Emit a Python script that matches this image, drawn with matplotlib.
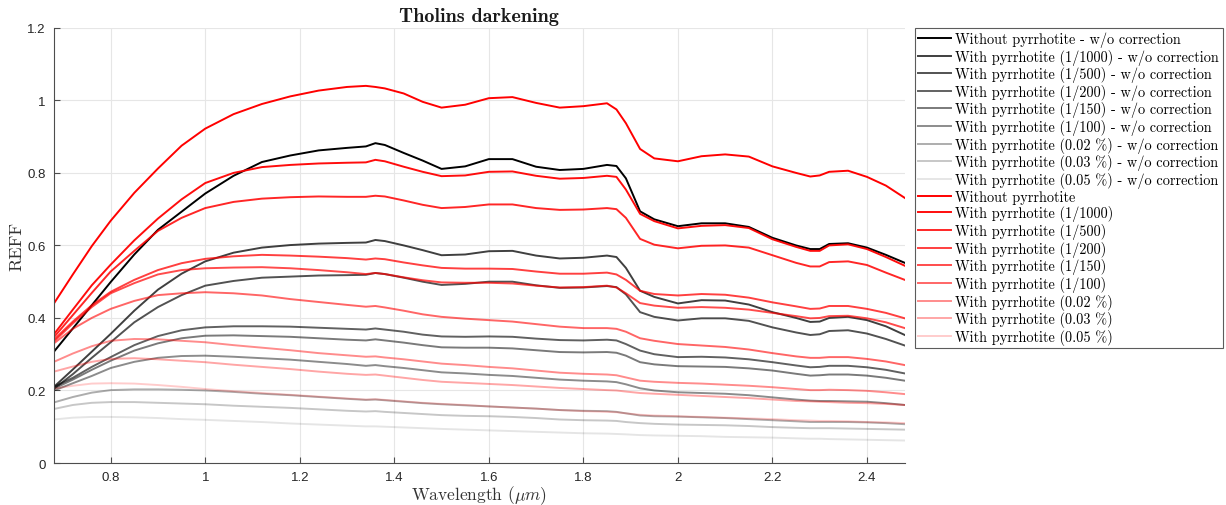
import matplotlib
matplotlib.use("Agg")
import matplotlib.pyplot as plt
from matplotlib.ticker import FuncFormatter, MultipleLocator

plt.rcParams["mathtext.fontset"] = "cm"

# Wavelength grid (micrometres)
wavelength = [0.68, 0.72, 0.76, 0.80, 0.85, 0.90, 0.95, 1.00, 1.06, 1.12, 1.18, 1.24, 1.30,
              1.34, 1.36, 1.38, 1.42, 1.46, 1.50, 1.55, 1.60, 1.65, 1.70, 1.75, 1.80, 1.85,
              1.87, 1.89, 1.92, 1.95, 2.00, 2.05, 2.10, 2.15, 2.20, 2.25, 2.28, 2.30, 2.32,
              2.36, 2.40, 2.44, 2.48]

# Reflectance spectra without the correction step
raw_none = [0.307, 0.371, 0.435, 0.499, 0.575, 0.643, 0.693, 0.743, 0.792, 0.830, 0.848, 0.862, 0.869,
            0.873, 0.882, 0.877, 0.855, 0.834, 0.811, 0.818, 0.838, 0.838, 0.817, 0.808, 0.811, 0.822,
            0.819, 0.785, 0.694, 0.672, 0.653, 0.661, 0.661, 0.651, 0.621, 0.600, 0.590, 0.590, 0.604,
            0.606, 0.594, 0.574, 0.552]
raw_1000 = [0.210, 0.258, 0.307, 0.356, 0.420, 0.478, 0.522, 0.556, 0.580, 0.594, 0.601, 0.605, 0.607,
            0.608, 0.615, 0.612, 0.600, 0.587, 0.573, 0.575, 0.584, 0.585, 0.572, 0.564, 0.566, 0.572,
            0.568, 0.538, 0.475, 0.458, 0.440, 0.449, 0.448, 0.437, 0.416, 0.400, 0.389, 0.390, 0.400,
            0.403, 0.394, 0.377, 0.353]
raw_500 = [0.205, 0.245, 0.290, 0.333, 0.388, 0.430, 0.463, 0.489, 0.502, 0.511, 0.514, 0.517, 0.518,
           0.519, 0.524, 0.521, 0.511, 0.500, 0.491, 0.494, 0.500, 0.500, 0.490, 0.483, 0.484, 0.488,
           0.485, 0.465, 0.416, 0.403, 0.393, 0.399, 0.399, 0.392, 0.374, 0.360, 0.353, 0.355, 0.364,
           0.366, 0.357, 0.342, 0.324]
raw_200 = [0.210, 0.235, 0.265, 0.292, 0.325, 0.350, 0.366, 0.374, 0.377, 0.377, 0.376, 0.373, 0.370,
           0.368, 0.371, 0.368, 0.362, 0.354, 0.349, 0.348, 0.349, 0.348, 0.343, 0.339, 0.338, 0.340,
           0.338, 0.328, 0.310, 0.300, 0.292, 0.293, 0.291, 0.286, 0.278, 0.269, 0.264, 0.265, 0.268,
           0.268, 0.264, 0.257, 0.247]
raw_150 = [0.205, 0.230, 0.257, 0.282, 0.310, 0.330, 0.344, 0.351, 0.352, 0.350, 0.348, 0.344, 0.340,
           0.338, 0.341, 0.338, 0.332, 0.325, 0.319, 0.318, 0.318, 0.316, 0.311, 0.306, 0.305, 0.306,
           0.304, 0.296, 0.278, 0.272, 0.267, 0.266, 0.265, 0.261, 0.255, 0.246, 0.241, 0.242, 0.244,
           0.244, 0.241, 0.235, 0.227]
raw_100 = [0.200, 0.220, 0.240, 0.262, 0.279, 0.290, 0.295, 0.296, 0.293, 0.289, 0.285, 0.279, 0.273,
           0.268, 0.270, 0.267, 0.262, 0.256, 0.250, 0.247, 0.243, 0.240, 0.235, 0.230, 0.227, 0.225,
           0.223, 0.217, 0.206, 0.200, 0.195, 0.193, 0.191, 0.187, 0.181, 0.175, 0.172, 0.171, 0.171,
           0.170, 0.169, 0.165, 0.160]
raw_002 = [0.167, 0.182, 0.194, 0.201, 0.203, 0.203, 0.202, 0.200, 0.196, 0.191, 0.187, 0.182, 0.177,
           0.174, 0.175, 0.173, 0.169, 0.165, 0.162, 0.159, 0.156, 0.153, 0.150, 0.146, 0.144, 0.143,
           0.141, 0.137, 0.131, 0.129, 0.128, 0.126, 0.124, 0.121, 0.118, 0.115, 0.113, 0.113, 0.113,
           0.113, 0.112, 0.110, 0.107]
raw_003 = [0.149, 0.160, 0.166, 0.168, 0.168, 0.166, 0.164, 0.162, 0.158, 0.155, 0.152, 0.148, 0.144,
           0.142, 0.143, 0.141, 0.138, 0.135, 0.132, 0.130, 0.129, 0.127, 0.124, 0.120, 0.118, 0.117,
           0.116, 0.113, 0.110, 0.108, 0.106, 0.105, 0.104, 0.102, 0.099, 0.097, 0.096, 0.096, 0.096,
           0.095, 0.094, 0.093, 0.092]
raw_005 = [0.120, 0.125, 0.127, 0.127, 0.126, 0.124, 0.121, 0.119, 0.116, 0.113, 0.109, 0.106, 0.103,
           0.101, 0.101, 0.100, 0.098, 0.096, 0.094, 0.092, 0.090, 0.088, 0.086, 0.084, 0.082, 0.081,
           0.080, 0.079, 0.077, 0.076, 0.075, 0.074, 0.072, 0.071, 0.070, 0.068, 0.067, 0.067, 0.066,
           0.065, 0.064, 0.063, 0.062]

# Corrected reflectance spectra
cor_none = [0.440, 0.520, 0.598, 0.668, 0.745, 0.812, 0.875, 0.922, 0.962, 0.990, 1.011, 1.027, 1.037,
            1.040, 1.037, 1.033, 1.019, 0.996, 0.980, 0.988, 1.006, 1.009, 0.993, 0.980, 0.984, 0.992,
            0.975, 0.937, 0.866, 0.840, 0.832, 0.846, 0.851, 0.845, 0.818, 0.800, 0.790, 0.793, 0.803,
            0.806, 0.789, 0.765, 0.731]
cor_1000 = [0.355, 0.423, 0.490, 0.547, 0.614, 0.674, 0.727, 0.772, 0.800, 0.816, 0.822, 0.826, 0.828,
            0.829, 0.836, 0.832, 0.817, 0.803, 0.791, 0.793, 0.803, 0.804, 0.792, 0.784, 0.786, 0.792,
            0.789, 0.754, 0.687, 0.667, 0.647, 0.654, 0.656, 0.648, 0.617, 0.596, 0.585, 0.585, 0.600,
            0.603, 0.590, 0.568, 0.544]
cor_500 = [0.347, 0.408, 0.469, 0.528, 0.585, 0.640, 0.676, 0.703, 0.720, 0.729, 0.733, 0.735, 0.734,
           0.734, 0.737, 0.735, 0.724, 0.712, 0.703, 0.706, 0.713, 0.713, 0.703, 0.698, 0.699, 0.703,
           0.700, 0.676, 0.618, 0.602, 0.592, 0.599, 0.600, 0.594, 0.573, 0.552, 0.542, 0.542, 0.554,
           0.556, 0.546, 0.525, 0.505]
cor_200 = [0.340, 0.390, 0.435, 0.472, 0.505, 0.532, 0.551, 0.563, 0.570, 0.574, 0.572, 0.569, 0.565,
           0.561, 0.564, 0.562, 0.553, 0.545, 0.538, 0.536, 0.536, 0.535, 0.528, 0.522, 0.522, 0.525,
           0.520, 0.505, 0.475, 0.466, 0.462, 0.466, 0.464, 0.456, 0.443, 0.432, 0.425, 0.426, 0.433,
           0.433, 0.425, 0.414, 0.399]
cor_150 = [0.335, 0.385, 0.430, 0.468, 0.496, 0.520, 0.532, 0.537, 0.539, 0.540, 0.537, 0.532, 0.526,
           0.521, 0.524, 0.521, 0.512, 0.504, 0.498, 0.497, 0.497, 0.495, 0.489, 0.484, 0.485, 0.489,
           0.484, 0.468, 0.441, 0.434, 0.428, 0.430, 0.428, 0.423, 0.414, 0.405, 0.399, 0.400, 0.405,
           0.406, 0.399, 0.388, 0.372]
cor_100 = [0.330, 0.370, 0.400, 0.425, 0.447, 0.463, 0.468, 0.471, 0.468, 0.462, 0.452, 0.444, 0.436,
           0.431, 0.433, 0.429, 0.420, 0.410, 0.403, 0.398, 0.394, 0.390, 0.383, 0.376, 0.372, 0.372,
           0.370, 0.362, 0.344, 0.337, 0.328, 0.324, 0.320, 0.313, 0.303, 0.294, 0.290, 0.290, 0.292,
           0.292, 0.287, 0.280, 0.270]
cor_002 = [0.279, 0.302, 0.322, 0.337, 0.342, 0.341, 0.337, 0.333, 0.325, 0.318, 0.311, 0.303, 0.297,
           0.293, 0.294, 0.291, 0.286, 0.280, 0.274, 0.270, 0.265, 0.261, 0.255, 0.249, 0.246, 0.244,
           0.242, 0.236, 0.227, 0.224, 0.221, 0.219, 0.216, 0.213, 0.209, 0.204, 0.201, 0.201, 0.202,
           0.201, 0.199, 0.195, 0.190]
cor_003 = [0.252, 0.266, 0.279, 0.287, 0.289, 0.286, 0.282, 0.278, 0.271, 0.265, 0.259, 0.252, 0.246,
           0.243, 0.244, 0.241, 0.235, 0.229, 0.224, 0.221, 0.218, 0.215, 0.211, 0.207, 0.204, 0.201,
           0.200, 0.197, 0.193, 0.191, 0.188, 0.185, 0.182, 0.179, 0.175, 0.171, 0.170, 0.169, 0.168,
           0.166, 0.165, 0.163, 0.160]
cor_005 = [0.205, 0.213, 0.219, 0.220, 0.219, 0.215, 0.210, 0.204, 0.198, 0.193, 0.188, 0.183, 0.178,
           0.175, 0.176, 0.174, 0.170, 0.166, 0.163, 0.160, 0.156, 0.153, 0.150, 0.146, 0.143, 0.141,
           0.140, 0.137, 0.133, 0.131, 0.129, 0.127, 0.125, 0.123, 0.121, 0.118, 0.117, 0.116, 0.116,
           0.115, 0.113, 0.112, 0.110]

amounts = ["", " (1/1000)", " (1/500)", " (1/200)", " (1/150)", " (1/100)",
           " (0.02 %)", " (0.03 %)", " (0.05 %)"]
raw_series = [raw_none, raw_1000, raw_500, raw_200, raw_150, raw_100, raw_002, raw_003, raw_005]
cor_series = [cor_none, cor_1000, cor_500, cor_200, cor_150, cor_100, cor_002, cor_003, cor_005]
alphas = [1.0, 0.75, 0.68, 0.62, 0.52, 0.45, 0.32, 0.22, 0.1]
red_alphas = [1.0, 0.95, 0.85, 0.75, 0.7, 0.6, 0.45, 0.35, 0.2]


def label_for(i, suffix):
    base = "Without pyrrhotite" if i == 0 else "With pyrrhotite" + amounts[i]
    return base + suffix


fig = plt.figure(figsize=(12.26, 5.06), dpi=100)
ax = fig.add_axes([0.044, 0.083, 0.694, 0.860])

handles = []
for i, ys in enumerate(raw_series):
    h, = ax.plot(wavelength, ys, color="black", alpha=alphas[i], lw=1.4,
                 label=label_for(i, " - w/o correction"))
    handles.append(h)
for i, ys in enumerate(cor_series):
    h, = ax.plot(wavelength, ys, color="red", alpha=red_alphas[i], lw=1.4,
                 label=label_for(i, ""))
    handles.append(h)

ax.set_xlim(0.68, 2.48)
ax.set_ylim(0, 1.2)
ax.xaxis.set_major_locator(MultipleLocator(0.2))
ax.yaxis.set_major_locator(MultipleLocator(0.2))
fmt = FuncFormatter(lambda v, p: "%g" % round(v, 3))
ax.xaxis.set_major_formatter(fmt)
ax.yaxis.set_major_formatter(fmt)
ax.grid(True, color="#e6e6e6", lw=0.8)
ax.set_axisbelow(True)
for side in ("top", "right"):
    ax.spines[side].set_visible(False)
for side in ("left", "bottom"):
    ax.spines[side].set_color("#4d4d4d")
ax.tick_params(direction="in", length=4, colors="#4d4d4d", labelcolor="#262626",
               labelsize=9.5, pad=6)
for lab in ax.get_xticklabels() + ax.get_yticklabels():
    lab.set_fontfamily("Liberation Sans")

ax.set_title("Tholins darkening", fontfamily="cmb10", fontsize=14.5, pad=5, color="#1a1a1a")
ax.set_xlabel(r"Wavelength ($\mu m$)", fontfamily="cmr10", fontsize=12.5, color="#333333",
              labelpad=0)
ax.set_ylabel("REFF", fontfamily="cmr10", fontsize=13, color="#333333", labelpad=2)

leg = fig.legend(handles=handles, loc="upper left", bbox_to_anchor=(0.746, 0.943),
                 prop={"family": "cmr10", "size": 10.3}, frameon=True, fancybox=False,
                 edgecolor="#333333", borderpad=0.25, labelspacing=0.115, handlelength=2.3,
                 handletextpad=0.3, borderaxespad=0)
leg.get_frame().set_linewidth(0.8)

fig.savefig("out.png", dpi=100)
